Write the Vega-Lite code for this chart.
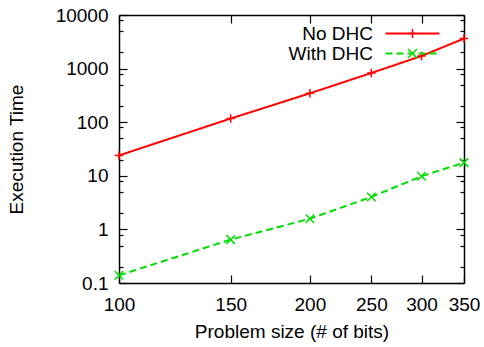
{
  "$schema": "https://vega.github.io/schema/vega-lite/v6.json",
  "width": 345,
  "height": 268,
  "autosize": {"type": "none"},
  "padding": {"left": 119, "top": 15, "right": 20, "bottom": 64},
  "background": "white",
  "config": {
    "view": {"stroke": null},
    "font": "Liberation Sans",
    "axis": {
      "domainColor": "black",
      "domainWidth": 1.5,
      "tickColor": "black",
      "tickWidth": 1.2,
      "grid": false,
      "labelFont": "Liberation Sans",
      "labelFontSize": 19,
      "labelColor": "black",
      "labelOverlap": false,
      "labelFlush": false,
      "titleFont": "Liberation Sans",
      "titleFontSize": 19,
      "titleFontWeight": "normal",
      "titleColor": "black"
    },
    "legend": {
      "orient": "none",
      "legendX": 284,
      "legendY": 9,
      "title": null,
      "padding": 0,
      "rowPadding": 0,
      "symbolSize": 81,
      "labelFont": "Liberation Sans",
      "labelFontSize": 19,
      "labelColor": "black",
      "labelAlign": "right",
      "labelOffset": -49
    }
  },
  "data": {
    "values": [
      {"series": "No DHC", "bits": 100, "time": 24},
      {"series": "No DHC", "bits": 150, "time": 117},
      {"series": "No DHC", "bits": 200, "time": 346},
      {"series": "No DHC", "bits": 250, "time": 828},
      {"series": "No DHC", "bits": 300, "time": 1720},
      {"series": "No DHC", "bits": 350, "time": 3630},
      {"series": "With DHC", "bits": 100, "time": 0.139},
      {"series": "With DHC", "bits": 150, "time": 0.645},
      {"series": "With DHC", "bits": 200, "time": 1.58},
      {"series": "With DHC", "bits": 250, "time": 4.03},
      {"series": "With DHC", "bits": 300, "time": 9.8},
      {"series": "With DHC", "bits": 350, "time": 17.6}
    ]
  },
  "layer": [
    {
      "mark": {"type": "line", "strokeWidth": 2},
      "encoding": {
        "x": {
          "field": "bits", "type": "quantitative",
          "scale": {"type": "log", "domain": [100, 350], "nice": false},
          "axis": {"orient": "bottom", "values": [100, 150, 200, 250, 300, 350], "format": "d",
                   "tickSize": -8, "labelPadding": 20, "title": "Problem size (# of bits)", "titlePadding": 8}
        },
        "y": {
          "field": "time", "type": "quantitative",
          "scale": {"type": "log", "domain": [0.1, 10000], "nice": false},
          "axis": {"orient": "left", "values": [0.1, 1, 10, 100, 1000, 10000], "format": "~g",
                   "tickSize": -8, "labelPadding": 19, "title": "Execution Time", "titlePadding": 29}
        },
        "color": {
          "field": "series", "type": "nominal",
          "scale": {"range": ["#ff0000", "#00dd00"]},
          "legend": {"symbolType": "M-6,0L6,0", "symbolStrokeWidth": 2}
        },
        "strokeDash": {
          "field": "series", "type": "nominal",
          "scale": {"range": [[1, 0], [7, 4]]},
          "legend": {"symbolType": "M-6,0L6,0", "symbolStrokeWidth": 2}
        }
      }
    },
    {
      "mark": {"type": "point", "filled": false, "strokeWidth": 1.5, "size": 72, "opacity": 1},
      "encoding": {
        "x": {
          "field": "bits", "type": "quantitative",
          "axis": {"orient": "top", "values": [100, 150, 200, 250, 300, 350], "labels": false,
                   "tickSize": -8, "title": null}
        },
        "y": {
          "field": "time", "type": "quantitative",
          "axis": {"orient": "right", "values": [0.1, 1, 10, 100, 1000, 10000], "labels": false,
                   "tickSize": -8, "title": null}
        },
        "color": {
          "field": "series", "type": "nominal",
          "scale": {"range": ["#ff0000", "#00dd00"]},
          "legend": {"symbolStrokeWidth": 1.5, "labelOpacity": 0}
        },
        "shape": {
          "field": "series", "type": "nominal",
          "scale": {"range": ["M-1,0L1,0M0,-1L0,1", "M-1,-1L1,1M-1,1L1,-1"]},
          "legend": {"symbolStrokeWidth": 1.5, "labelOpacity": 0}
        }
      }
    },
    {
      "mark": {"type": "point", "opacity": 0},
      "encoding": {
        "x": {"field": "bits", "type": "quantitative", "axis": null},
        "y": {
          "field": "time", "type": "quantitative",
          "axis": {"orient": "left", "values": [0.2, 0.5, 0.8, 2, 5, 8, 20, 50, 80, 200, 500, 800, 2000, 5000, 8000],
                   "labels": false, "domain": false, "tickSize": -4, "title": null}
        }
      }
    },
    {
      "mark": {"type": "point", "opacity": 0},
      "encoding": {
        "x": {"field": "bits", "type": "quantitative", "axis": null},
        "y": {
          "field": "time", "type": "quantitative",
          "axis": {"orient": "right", "values": [0.2, 0.5, 0.8, 2, 5, 8, 20, 50, 80, 200, 500, 800, 2000, 5000, 8000],
                   "labels": false, "domain": false, "tickSize": -4, "title": null}
        }
      }
    }
  ],
  "resolve": {
    "scale": {"color": "independent", "strokeDash": "independent", "shape": "independent"},
    "legend": {"color": "independent", "strokeDash": "independent", "shape": "independent"},
    "axis": {"x": "independent", "y": "independent"}
  }
}
